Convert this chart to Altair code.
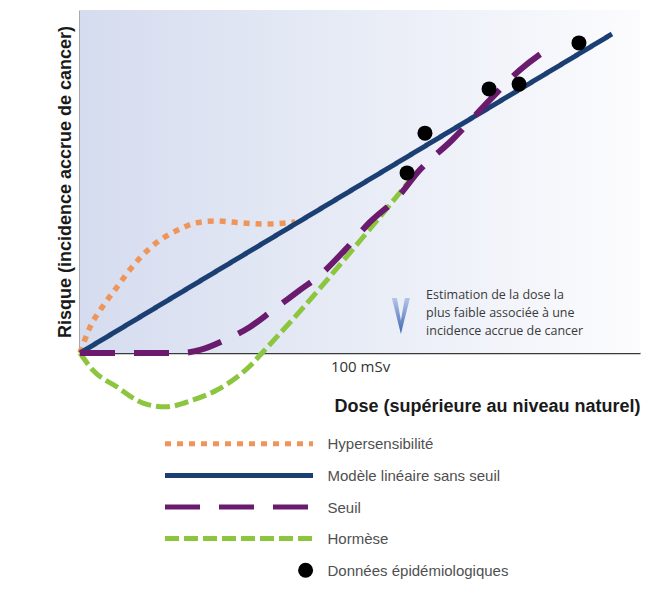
import altair as alt
import pandas as pd

# ---------------- data ----------------
series_names = ["Hypersensibilité", "Modèle linéaire sans seuil", "Seuil", "Hormèse",
                "Données épidémiologiques"]
series_colors = ["#f0955a", "#1b3f72", "#6a1b6e", "#8cc63f", "#000000"]
series_dashes = [[6, 6], [1, 0], [35, 19], [14, 5], [1, 0]]
series_widths = [5.5, 5, 6, 5]

hyper_x = [0, 3.6, 8.2, 13.2, 18.6, 25.0, 32.1, 36.4, 41.1, 48.9, 57.9, 66.8, 76.8]
hyper_y = [0, 7.6, 13.7, 19.2, 25.1, 30.6, 34.7, 36.4, 37.9, 38.5, 37.9, 37.6, 38.2]
lnt_x = [0, 190]
lnt_y = [0, 93.0]
seuil_x = [0, 35.7, 42.9, 51.8, 60.7, 68.9, 78.6, 85.7, 94.6, 103.6, 113.2, 121.4, 132.9, 146.4, 157.1, 168.6]
seuil_y = [0, 0, 0.9, 3.8, 7.6, 12.5, 18.4, 22.7, 30.0, 38.2, 45.2, 53.4, 62.1, 73.8, 82.5, 89.5]
horm_x = [0, 4.6, 13.2, 22.5, 30.4, 40.4, 48.9, 56.1, 60.7, 65.0, 78.6, 96.4, 117.9]
horm_y = [0, -5.0, -9.9, -14.6, -15.7, -13.7, -10.8, -7.0, -3.8, 0, 12.2, 29.2, 50.4]
epi_x = [116.8, 123.2, 146.1, 156.8, 178.2]
epi_y = [52.5, 64.1, 77.0, 78.4, 90.4]

x_domain = [0, 200]
y_domain = [0, 100]
tick_values = [100]
tick_labels = ["100 mSv"]
x_title = "Dose (supérieure au niveau naturel)"
y_title = "Risque (incidence accrue de cancer)"

annot_lines = ["Estimation de la dose la", "plus faible associée à une", "incidence accrue de cancer"]
annot_x = [123.6, 123.6, 123.6]
annot_y = [16.9, 11.7, 6.4]
arrow_x = [114.6]
arrow_y = [10.8]

legend_line_x = [0, 1]
legend_dot_x = [0.95]

# ---------------- scales / axes ----------------
color_scale = alt.Scale(domain=series_names, range=series_colors)
dash_scale = alt.Scale(domain=series_names, range=series_dashes)
xs = alt.Scale(domain=x_domain, nice=False, zero=False)
ys = alt.Scale(domain=y_domain, nice=False, zero=False)

label_expr = " : ".join(
    [f"datum.value == {v} ? '{t}'" for v, t in zip(tick_values, tick_labels)] + ["''"]
)

x_axis = alt.Axis(
    values=tick_values, labelExpr=label_expr, ticks=False, grid=False,
    domainColor="#3a3a3a", domainWidth=1.5,
    labelFont="Open Sans", labelFontSize=15, labelColor="#333333", labelPadding=6,
    title=x_title, titleFont="Liberation Sans", titleFontSize=18, titleFontWeight="bold",
    titleColor="#1a1a1a", titleAnchor="end", titlePadding=23,
)
y_axis = alt.Axis(
    values=[], labels=False, ticks=False, grid=False,
    domainColor="#555555", domainWidth=2,
    title=y_title, titleFont="Liberation Sans", titleFontSize=18, titleFontWeight="bold",
    titleColor="#1a1a1a", titlePadding=6,
)


def X(field="x"):
    return alt.X(field, type="quantitative", scale=xs, axis=x_axis)


def Y(field="y"):
    return alt.Y(field, type="quantitative", scale=ys, axis=y_axis)


# ---------------- main chart ----------------
bg_df = pd.DataFrame({"x": [x_domain[0]], "x2": [x_domain[1]], "y": [y_domain[0]], "y2": [y_domain[1]]})
bg = alt.Chart(bg_df).mark_rect(
    fill=alt.LinearGradient(
        gradient="linear",
        stops=[alt.GradientStop(color="#d5dcef", offset=0),
               alt.GradientStop(color="#e8ecf6", offset=0.5),
               alt.GradientStop(color="#fcfcfe", offset=1)],
        x1=0, x2=1, y1=0, y2=0,
    )
).encode(x=X("x"), x2="x2", y=Y("y"), y2="y2")

curves = [
    (series_names[0], hyper_x, hyper_y, series_widths[0]),
    (series_names[1], lnt_x, lnt_y, series_widths[1]),
    (series_names[3], horm_x, horm_y, series_widths[3]),
    (series_names[2], seuil_x, seuil_y, series_widths[2]),
]

layers = [bg]
for name, cx, cy, w in curves:
    df = pd.DataFrame({"x": cx, "y": cy, "series": name})
    layers.append(
        alt.Chart(df).mark_line(strokeWidth=w, interpolate="monotone", strokeCap="butt").encode(
            x=X(), y=Y(),
            color=alt.Color("series:N", scale=color_scale, legend=None),
            strokeDash=alt.StrokeDash("series:N", scale=dash_scale, legend=None),
        )
    )

epi_df = pd.DataFrame({"x": epi_x, "y": epi_y, "series": series_names[4]})
layers.append(
    alt.Chart(epi_df).mark_point(filled=True, size=225, opacity=1).encode(
        x=X(), y=Y(), color=alt.Color("series:N", scale=color_scale, legend=None)
    )
)

arrow_df = pd.DataFrame({"x": arrow_x, "y": arrow_y})
layers.append(
    alt.Chart(arrow_df).mark_point(
        shape="M-0.5,-1 L-0.22,-1 L0,0.25 L0.22,-1 L0.5,-1 L0,1 Z",
        size=1300, filled=True, opacity=1, strokeWidth=0,
        fill=alt.LinearGradient(
            gradient="linear",
            stops=[alt.GradientStop(color="#b5c6e6", offset=0),
                   alt.GradientStop(color="#3f66b5", offset=1)],
            x1=0, x2=0, y1=0, y2=1,
        ),
    ).encode(x=X(), y=Y())
)

annot_df = pd.DataFrame({"x": annot_x, "y": annot_y, "t": annot_lines})
layers.append(
    alt.Chart(annot_df).mark_text(
        align="left", baseline="middle", font="Open Sans", fontSize=12.5, color="#3a3a3a"
    ).encode(x=X(), y=Y(), text="t:N")
)

main = alt.layer(*layers).properties(width=560, height=343)

# ---------------- legend chart ----------------
leg_rows = []
for name in series_names[:4]:
    for lx in legend_line_x:
        leg_rows.append({"lx": lx, "series": name})
leg_df = pd.DataFrame(leg_rows)
dot_df = pd.DataFrame({"lx": legend_dot_x, "series": [series_names[4]]})

lx_scale = alt.Scale(domain=[0, 1], range=[85, 233])
ly = alt.Y(
    "series:N", scale=alt.Scale(domain=series_names), sort=series_names,
    axis=alt.Axis(orient="right", domain=False, ticks=False, grid=False,
                  labelFont="Liberation Sans Narrow, Arial Narrow, Liberation Sans, sans-serif",
                  labelFontSize=15, labelColor="#505050", labelPadding=12, labelLimit=400,
                  title=None),
)

leg_lines = alt.Chart(leg_df).mark_line(strokeWidth=5, strokeCap="butt").encode(
    x=alt.X("lx:Q", scale=lx_scale, axis=None),
    y=ly,
    color=alt.Color("series:N", scale=color_scale, legend=None),
    strokeDash=alt.StrokeDash("series:N", scale=dash_scale, legend=None),
    detail="series:N",
)
leg_dot = alt.Chart(dot_df).mark_point(filled=True, size=225, opacity=1).encode(
    x=alt.X("lx:Q", scale=lx_scale, axis=None),
    y=ly,
    color=alt.Color("series:N", scale=color_scale, legend=None),
)
legend = alt.layer(leg_lines, leg_dot).properties(width=235, height=158)

chart = alt.vconcat(main, legend, spacing=11).properties(
    padding={"left": 48, "top": 2, "right": 5, "bottom": 5}
).configure_view(stroke=None)

chart.save("out.html", embed_options={"renderer": "svg", "actions": False})
